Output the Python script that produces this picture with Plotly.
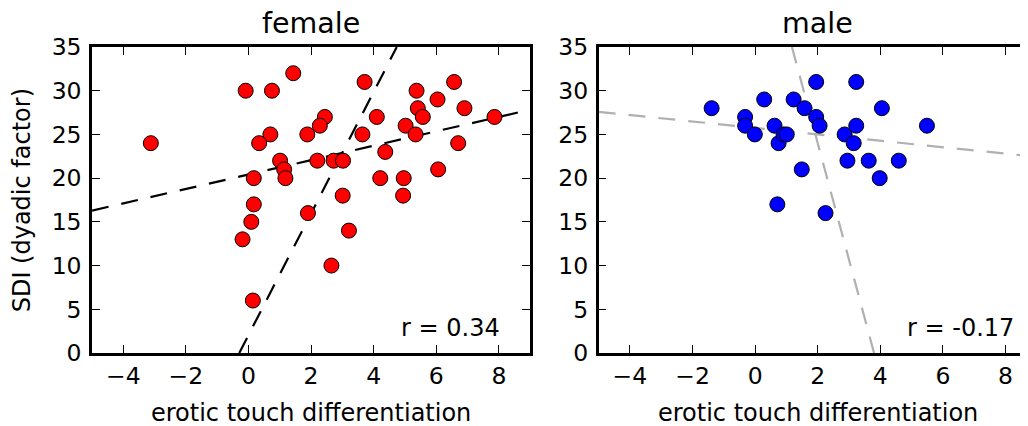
import numpy as np
import plotly.graph_objects as go

# ---- data ----
female_x = [-3.12, -0.09, 0.75, 1.43, 3.71, 5.37, 6.57, 6.04, 5.41, 6.90, 5.57, 4.10,
            2.44, 2.28, 5.02, 7.86, 0.70, 1.88, 3.64, 5.34, 0.34, 6.70, 4.37, 1.01,
            2.20, 2.72, 3.02, 1.14, 6.06, 0.17, 1.18, 4.21, 4.96, 3.01, 4.94, 0.17,
            1.90, 0.09, 3.21, -0.19, 2.65, 0.14]
female_y = [24, 30, 30, 32, 31, 30, 31, 29, 28, 28, 27, 27,
            27, 26, 26, 27, 25, 25, 25, 25, 24, 24, 23, 22,
            22, 22, 22, 21, 21, 20, 20, 20, 20, 18, 18, 17,
            16, 15, 14, 13, 10, 6]

male_x = [-1.39, -0.32, -0.32, -0.01, 0.29, 0.62, 0.75, 0.91, 1.01, 0.71, 1.23, 1.58,
          1.95, 1.95, 2.06, 1.49, 2.25, 2.86, 2.95, 3.15, 3.23, 3.23, 3.63, 3.98,
          4.05, 4.59, 5.49]
male_y = [28, 27, 26, 25, 29, 26, 24, 25, 25, 17, 29, 28,
          31, 27, 26, 21, 16, 25, 22, 24, 31, 26, 22, 20,
          28, 22, 26]

panel_titles = ["female", "male"]
r_labels = ["r = 0.34", "r = -0.17"]
x_label = "erotic touch differentiation"
y_label = "SDI (dyadic factor)"
x_tickvals = [-4, -2, 0, 2, 4, 6, 8]
x_ticktext = ["\u22124", "\u22122", "0", "2", "4", "6", "8"]
y_tickvals = [0, 5, 10, 15, 20, 25, 30, 35]
y_ticktext = ["0", "5", "10", "15", "20", "25", "30", "35"]

FONT = "DejaVu Sans"
W, H = 1028, 426
OFF = 8  # page body margin offset of the rendered figure

# target screen geometry (pixels) converted to figure pixels
F_L, F_R, TOP, BOT = 91.7 - OFF, 530 - OFF, 46.7 - OFF, 353 - OFF
M_L = 598.5 - OFF
ML, MR, MT, MB = F_L, 0, TOP, H - BOT
plot_w = W - ML - MR
ph = H - MT - MB

fig = go.Figure()


def reg_lines(x, y):
    x = np.asarray(x, float)
    y = np.asarray(y, float)
    b_yx, a_yx = np.polyfit(x, y, 1)          # y on x
    b_xy, a_xy = np.polyfit(y, x, 1)          # x on y
    xs = np.array([-5.0, 9.0])
    ys1 = a_yx + b_yx * xs
    yy = np.array([0.0, 35.0])
    xs2 = a_xy + b_xy * yy
    return (xs, ys1), (xs2, yy)


panels = [
    (female_x, female_y, "#ff0000", "black", "x", "y"),
    (male_x, male_y, "#0000ff", "#b0b0b0", "x2", "y2"),
]

for fx, fy, col, lcol, xa, ya in panels:
    (l1x, l1y), (l2x, l2y) = reg_lines(fx, fy)
    for lx, ly in [(l1x, l1y), (l2x, l2y)]:
        fig.add_trace(go.Scatter(x=lx, y=ly, mode="lines", xaxis=xa, yaxis=ya,
                                 line=dict(color=lcol, width=2.2, dash="17px,13px"),
                                 showlegend=False, hoverinfo="skip"))
    fig.add_trace(go.Scatter(x=fx, y=fy, mode="markers", xaxis=xa, yaxis=ya,
                             marker=dict(color=col, size=15, line=dict(color="black", width=1)),
                             showlegend=False))

f_right = (F_R - ML) / plot_w
m_left = (M_L - ML) / plot_w
px_per_unit = (F_R - F_L) / 14.0
male_xmax = -5 + (W - M_L) / px_per_unit

TICK_SIZE = 23.5
LABEL_SIZE = 24
TITLE_SIZE = 28.5

axis_common = dict(ticks="inside", ticklen=8, tickwidth=1.2, tickcolor="black",
                   showline=True, linecolor="black", linewidth=2.5, showgrid=False,
                   zeroline=False, tickfont=dict(family=FONT, size=TICK_SIZE, color="black"))

fig.update_layout(
    width=W, height=H, margin=dict(l=ML, r=MR, t=MT, b=MB, autoexpand=False),
    paper_bgcolor="white", plot_bgcolor="white",
    xaxis=dict(domain=[0, f_right], range=[-5, 9], tickvals=x_tickvals, ticktext=x_ticktext,
               mirror="ticks", anchor="y", ticklabelstandoff=0, **axis_common),
    yaxis=dict(domain=[0, 1], range=[0, 35], tickvals=y_tickvals, ticktext=y_ticktext,
               mirror="ticks", anchor="x", ticklabelstandoff=3, **axis_common),
    xaxis2=dict(domain=[m_left, 1], range=[-5, male_xmax], tickvals=x_tickvals, ticktext=x_ticktext,
                mirror="ticks", anchor="y2", ticklabelstandoff=0, **axis_common),
    yaxis2=dict(domain=[0, 1], range=[0, 35], tickvals=y_tickvals, ticktext=y_ticktext,
                mirror=False, anchor="x2", ticklabelstandoff=3, **axis_common),
)

centers = [(F_L + F_R) / 2, (M_L + M_L + (F_R - F_L)) / 2]
ann = []
for i, t in enumerate(panel_titles):
    cx = (centers[i] - ML) / plot_w
    ann.append(dict(text=t, xref="paper", yref="paper", x=cx, y=(BOT - (23 - OFF)) / ph,
                    xanchor="center", yanchor="middle", showarrow=False,
                    font=dict(family=FONT, size=TITLE_SIZE, color="black")))
    ann.append(dict(text=x_label, xref="paper", yref="paper", x=cx, y=(BOT - (413 - OFF)) / ph,
                    xanchor="center", yanchor="middle", showarrow=False,
                    font=dict(family=FONT, size=LABEL_SIZE, color="black")))
for t, xa, ya in zip(r_labels, ["x", "x2"], ["y", "y2"]):
    ann.append(dict(text=t, xref=xa, yref=ya, x=4.8, y=1.0, xanchor="left", yanchor="bottom",
                    showarrow=False, font=dict(family=FONT, size=LABEL_SIZE, color="black")))
ann.append(dict(text=y_label, xref="paper", yref="paper", x=((22 - OFF) - ML) / plot_w, y=0.5,
                xanchor="center", yanchor="middle", textangle=-90, showarrow=False,
                font=dict(family=FONT, size=LABEL_SIZE, color="black")))
fig.update_layout(annotations=ann)

fig.write_html("out.html")
